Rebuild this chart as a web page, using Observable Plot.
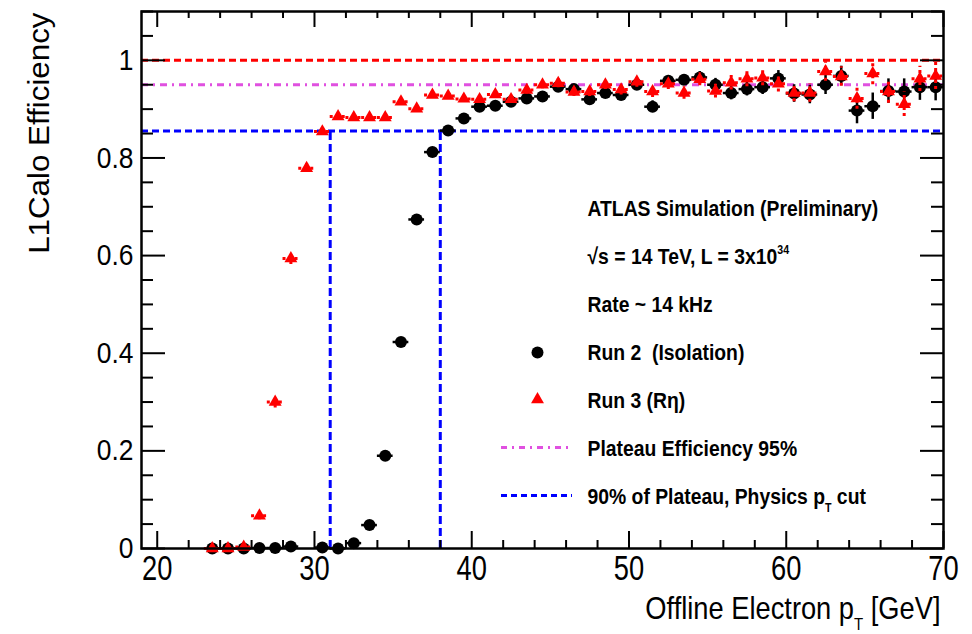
<!DOCTYPE html>
<html><head><meta charset="utf-8">
<script src="https://cdn.jsdelivr.net/npm/d3@7"></script>
<script src="https://cdn.jsdelivr.net/npm/@observablehq/plot@0.6"></script>
<style>
html,body{margin:0;padding:0;background:#fff;}
#chart svg{display:block;font-family:"Liberation Sans",Arial,Helvetica,sans-serif;background:#fff;}
#chart svg text{white-space:pre;}
</style></head><body><div id="chart"></div>
<script>
// ---- data ----
const run2Pt  = [23.5,24.5,25.5,26.5,27.5,28.5,30.5,31.5,32.5,33.5,34.5,35.5,36.5,37.5,
  38.5,39.5,40.5,41.5,42.5,43.5,44.5,45.5,46.5,47.5,48.5,49.5,50.5,51.5,52.5,53.5,54.5,55.5,
  56.5,57.5,58.5,59.5,60.5,61.5,62.5,63.5,64.5,65.5,66.5,67.5,68.5,69.5];
const run2Eff = [0,0,0,0.001,0.001,0.004,0.002,0.0,0.011,0.048,0.19,0.423,0.674,0.812,
  0.856,0.881,0.905,0.907,0.915,0.922,0.926,0.946,0.941,0.920,0.933,0.929,0.950,0.905,0.958,0.960,0.965,0.950,
  0.933,0.941,0.945,0.963,0.932,0.930,0.950,0.968,0.897,0.906,0.937,0.936,0.945,0.945];
const run2Err = [0.002,0.002,0.002,0.002,0.002,0.002,0.003,0.002,0.004,0.006,0.008,0.009,0.008,0.007,
  0.006,0.006,0.006,0.007,0.007,0.007,0.008,0.008,0.008,0.009,0.009,0.010,0.010,0.012,0.011,0.011,0.012,0.013,
  0.014,0.014,0.015,0.016,0.018,0.019,0.020,0.020,0.027,0.027,0.025,0.026,0.027,0.028];

const run3Pt  = [23.5,24.5,25.5,26.5,27.5,28.5,29.5,30.5,31.5,32.5,33.5,34.5,35.5,36.5,37.5,38.5,
  39.5,40.5,41.5,42.5,43.5,44.5,45.5,46.5,47.5,48.5,49.5,50.5,51.5,52.5,53.5,54.5,55.5,56.5,57.5,
  58.5,59.5,60.5,61.5,62.5,63.5,64.5,65.5,66.5,67.5,68.5,69.5];
const run3Eff = [0,0,0.003,0.067,0.30,0.594,0.779,0.854,0.885,0.883,
  0.883,0.883,0.915,0.901,0.929,0.927,0.921,0.920,0.930,0.920,
  0.939,0.950,0.953,0.935,0.936,0.950,0.940,0.956,0.936,0.952,
  0.933,0.961,0.937,0.954,0.962,0.964,0.952,0.933,0.933,0.977,
  0.967,0.922,0.973,0.936,0.910,0.962,0.968];
const run3Err = [0.002,0.002,0.003,0.008,0.012,0.012,0.009,0.007,0.006,0.006,
  0.006,0.006,0.006,0.007,0.007,0.007,0.007,0.007,0.007,0.008,
  0.008,0.008,0.009,0.009,0.010,0.010,0.011,0.011,0.012,0.012,
  0.013,0.013,0.014,0.015,0.016,0.016,0.017,0.018,0.019,0.020,
  0.020,0.022,0.023,0.024,0.025,0.026,0.028];

const fullEff   = [1.0];
const plateau   = [0.95];
const cutLevel  = 0.855;
const cutPt     = [31, 38];

const xTickLabels = [20, 30, 40, 50, 60, 70];
const yTickLabels = [0, 0.2, 0.4, 0.6, 0.8, 1];
const xMinorTicks = d3.range(20, 71, 2).filter(v => v % 10 !== 0);
const yMinorTicks = d3.range(0, 23).map(i => +(i * 0.05).toFixed(2)).filter(v => Math.round(v * 100) % 20 !== 0);

const xLabel = "Offline Electron p_{T} [GeV]";
const yLabel = "L1Calo Efficiency";
const legendLines = [
  "ATLAS Simulation (Preliminary)",
  "√s = 14 TeV, L = 3x10^{34}",
  "Rate ~ 14 kHz",
  "Run 2  (Isolation)",
  "Run 3 (Rη)",
  "Plateau Efficiency 95%",
  "90% of Plateau, Physics p_{T} cut"
];

// ---- build ----
const run2 = run2Pt.map((x, i) => ({x, y: run2Eff[i], e: run2Err[i]}));
const run3 = run3Pt.map((x, i) => ({x, y: run3Eff[i], e: run3Err[i]}));
const half = 0.5;

const W = 972, H = 634, mL = 141, mR = 29, mT = 11, mB = 86;
const fw = W - mL - mR, fh = H - mT - mB;
const RED = "#ff0000", BLUE = "#0000ff", MAG = "#e050e0";

const legendMarks = legendLines.map((t, i) =>
  Plot.text([t], {text: d => d, frameAnchor: "top-left", textAnchor: "start", lineAnchor: "bottom",
    dx: 446, dy: 204 + 48 * i, fontSize: 22.5, fontWeight: "bold", fill: "black"}));

const chart = Plot.plot({
  width: W, height: H,
  marginLeft: mL, marginRight: mR, marginTop: mT, marginBottom: mB,
  x: {domain: [19, 70], axis: null},
  y: {domain: [0, 1.1], axis: null},
  marks: [
    // reference lines
    Plot.ruleY(fullEff, {stroke: RED, strokeWidth: 3, strokeDasharray: "7,4"}),
    Plot.ruleY(plateau, {stroke: MAG, strokeWidth: 3, strokeDasharray: "7,5,2,5"}),
    Plot.ruleY([cutLevel], {stroke: BLUE, strokeWidth: 3, strokeDasharray: "7,4"}),
    Plot.ruleX(cutPt, {x: d => d, y1: 0, y2: cutLevel, stroke: BLUE, strokeWidth: 3, strokeDasharray: "8,4"}),
    // run 2 (black)
    Plot.ruleY(run2, {y: "y", x1: d => d.x - half, x2: d => d.x + half, stroke: "black", strokeWidth: 2.5}),
    Plot.ruleX(run2, {x: "x", y1: d => d.y - d.e, y2: d => d.y + d.e, stroke: "black", strokeWidth: 2.5}),
    Plot.dot(run2, {x: "x", y: "y", r: 6, fill: "black"}),
    // run 3 (red)
    Plot.ruleY(run3, {y: "y", x1: d => d.x - half, x2: d => d.x + half, stroke: RED, strokeWidth: 3, strokeDasharray: "3,3"}),
    Plot.ruleX(run3, {x: "x", y1: d => d.y - d.e, y2: d => d.y + d.e, stroke: RED, strokeWidth: 3, strokeDasharray: "3,3"}),
    Plot.dot(run3, {x: "x", y: "y", r: 4.8, symbol: "triangle", fill: RED}),
    // frame and ticks
    Plot.frame({stroke: "black", strokeWidth: 2.5}),
    Plot.tickX(xTickLabels, {x: d => d, insetTop: fh - 17, stroke: "black", strokeWidth: 2}),
    Plot.tickX(xMinorTicks, {x: d => d, insetTop: fh - 8, stroke: "black", strokeWidth: 2}),
    Plot.tickX(xTickLabels, {x: d => d, insetBottom: fh - 16, stroke: "black", strokeWidth: 2}),
    Plot.tickX(xMinorTicks, {x: d => d, insetBottom: fh - 7, stroke: "black", strokeWidth: 2}),
    Plot.tickY(yTickLabels, {y: d => d, insetRight: fw - 24, stroke: "black", strokeWidth: 2}),
    Plot.tickY(yMinorTicks, {y: d => d, insetRight: fw - 12, stroke: "black", strokeWidth: 2}),
    Plot.tickY(yTickLabels, {y: d => d, insetLeft: fw - 23, stroke: "black", strokeWidth: 2}),
    Plot.tickY(yMinorTicks, {y: d => d, insetLeft: fw - 12, stroke: "black", strokeWidth: 2}),
    // tick labels
    Plot.axisX(xTickLabels, {anchor: "bottom", tickSize: 0, tickPadding: 7, fontSize: 35, tickFormat: d => String(d), label: null}),
    Plot.axisY(yTickLabels, {anchor: "left", tickSize: 0, tickPadding: 8, fontSize: 30, tickFormat: d => String(d), label: null}),
    // axis titles
    Plot.text([xLabel], {text: d => d, frameAnchor: "bottom-right", textAnchor: "end", lineAnchor: "bottom",
      dx: -3, dy: 70, fontSize: 31, fill: "black"}),
    Plot.text([yLabel], {text: d => d, frameAnchor: "top-left", textAnchor: "end", lineAnchor: "bottom",
      rotate: -90, dx: -93, dy: 1, fontSize: 29, fill: "black"}),
    // legend
    ...legendMarks,
    Plot.dot([0], {frameAnchor: "top-left", dx: 396, dy: 341, r: 6, fill: "black"}),
    Plot.dot([0], {frameAnchor: "top-left", dx: 396, dy: 388, r: 4.8, symbol: "triangle", fill: RED}),
    Plot.ruleY([0], {y: null, insetLeft: 360, insetRight: 371, dy: 447 - (mT + H - mB) / 2, stroke: MAG, strokeWidth: 3, strokeDasharray: "6,5,2,5"}),
    Plot.ruleY([0], {y: null, insetLeft: 360, insetRight: 371, dy: 495 - (mT + H - mB) / 2, stroke: BLUE, strokeWidth: 3, strokeDasharray: "6,4"})
  ]
});
document.getElementById("chart").appendChild(chart);

// horizontal condensing to match the reference's narrow lettering
function condense(node, sx) {
  const t = node.getAttribute("transform");
  if (t) node.setAttribute("transform", t + ` scale(${sx},1)`);
  else {
    const x = +node.getAttribute("x") || 0, y = +node.getAttribute("y") || 0;
    node.setAttribute("transform", `translate(${x},${y}) scale(${sx},1) translate(${-x},${-y})`);
  }
}
d3.select(chart).selectAll("text").each(function() {
  const s = this.textContent;
  const grp = this.parentNode && this.parentNode.getAttribute("aria-label");
  let sx = 1;
  if (grp === "x-axis tick label") sx = 0.78;
  else if (grp === "y-axis tick label") sx = 0.88;
  else if (s === xLabel) sx = 0.88;
  else if (s === yLabel) sx = 1.08;
  else if (legendLines.includes(s)) sx = 0.86;
  if (sx !== 1) condense(this, sx);
});

// sub/superscripts as tspans
d3.select(chart).selectAll("text").each(function() {
  const s = this.textContent;
  if (!/[_^]\{/.test(s)) return;
  const F = parseFloat(getComputedStyle(this).fontSize);
  const parts = []; const re = /([_^])\{([^}]*)\}/g; let last = 0, m;
  while ((m = re.exec(s))) {
    if (m.index > last) parts.push({t: s.slice(last, m.index)});
    parts.push({t: m[2], k: m[1]}); last = re.lastIndex;
  }
  if (last < s.length) parts.push({t: s.slice(last)});
  this.textContent = "";
  let shift = 0;
  for (const p of parts) {
    const ts = document.createElementNS("http://www.w3.org/2000/svg", "tspan");
    const target = p.k === "_" ? 0.36 * F : p.k === "^" ? -0.42 * F : 0;
    ts.setAttribute("dy", target - shift); shift = target;
    if (p.k) ts.setAttribute("font-size", 0.55 * F);
    ts.textContent = p.t;
    this.appendChild(ts);
  }
});
</script></body></html>
